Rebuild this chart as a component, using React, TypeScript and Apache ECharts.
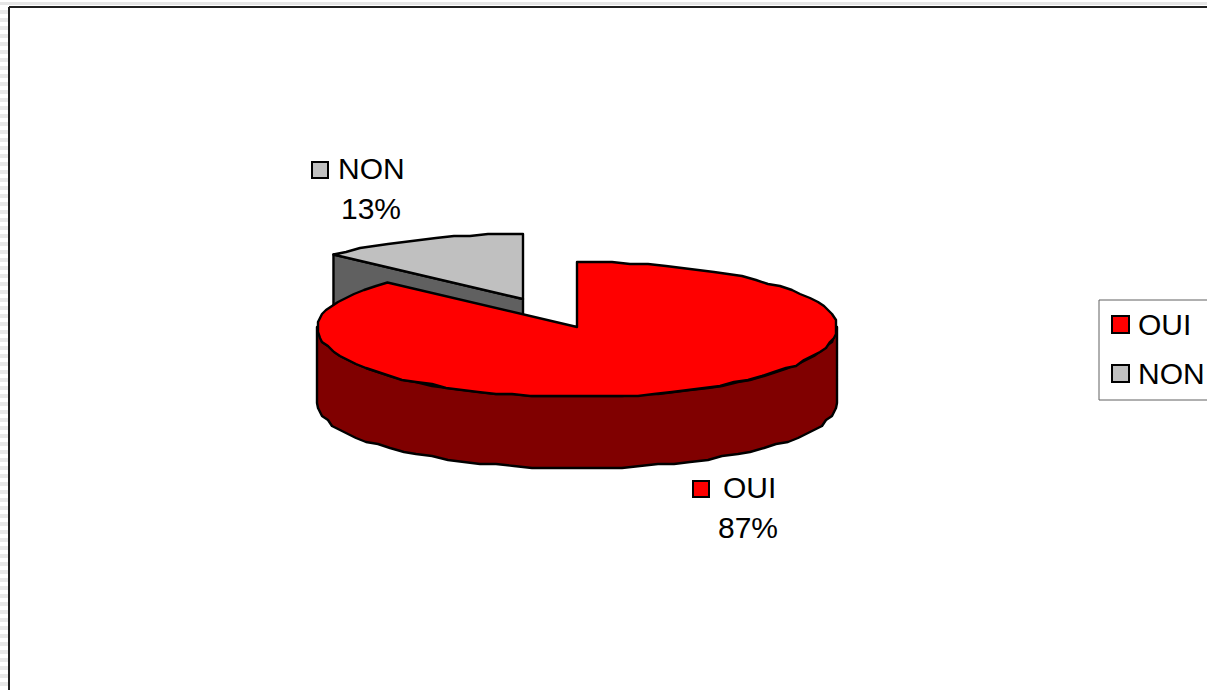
import React, { useEffect, useRef } from "react";
import * as echarts from "echarts";

const categories = ["OUI", "NON"];
const shares = [87, 13];
const topColors = ["#ff0000", "#c0c0c0"];
const sideColors = ["#800000", "#606060"];

const W = 1207, H = 690;
const CX = 577, CY = 327, RX = 260, RY_BACK = 65, RY_FRONT = 70, DEPTH = 76;
const EXPLODE = [[0, 0], [-54, -28]];
const SNAP = 2;

function rim(deg: number, ox: number, oy: number, drop: number): number[] {
  const a = (deg * Math.PI) / 180;
  const c = Math.cos(a);
  const ry = drop > 0 ? RY_BACK : c >= 0 ? RY_BACK : RY_FRONT;
  return [CX + ox + RX * Math.sin(a), CY + oy + drop - ry * c];
}
function arc(from: number, to: number, ox: number, oy: number, drop: number): number[][] {
  const n = Math.max(2, Math.ceil(Math.abs(to - from) / 4));
  const pts: number[][] = [];
  for (let i = 0; i <= n; i++) {
    const p = rim(from + ((to - from) * i) / n, ox, oy, drop);
    // The reference outline is visibly stepped; keep inner points on a coarse pixel grid.
    pts.push(i === 0 || i === n ? p : [Math.round(p[0] / SNAP) * SNAP, Math.round(p[1] / SNAP) * SNAP]);
  }
  return pts;
}

function sliceItem(index: number) {
  const total = shares.reduce((s, v) => s + v, 0);
  const before = shares.slice(0, index).reduce((s, v) => s + v, 0);
  const start = (before / total) * 360;
  const end = ((before + shares[index]) / total) * 360;
  const [ox, oy] = EXPLODE[index];
  const apex = [CX + ox, CY + oy];
  const stroke = { stroke: "#000", lineWidth: 2.4, lineJoin: "round" };
  const children: any[] = [];
  if (index === 1) {
    const p = rim(start, ox, oy, 0);
    children.push({
      type: "polygon",
      shape: { points: [apex, p, [p[0], p[1] + DEPTH], [apex[0], apex[1] + DEPTH]] },
      style: { fill: sideColors[index], ...stroke },
    });
  }
  const wallFrom = Math.max(start, 90);
  const wallTo = Math.min(end, 270);
  if (wallFrom < wallTo) {
    const top = arc(wallFrom, wallTo, ox, oy, 0);
    const bottom = arc(wallTo, wallFrom, ox, oy, DEPTH);
    children.push({
      type: "polygon",
      shape: { points: [...top, ...bottom] },
      style: { fill: sideColors[index], ...stroke },
    });
  }
  children.push({
    type: "polygon",
    shape: { points: [apex, ...arc(start, end, ox, oy, 0)] },
    style: { fill: topColors[index], ...stroke },
  });
  return { type: "group", children };
}

function keyLabel(i: number, keyX: number, keyY: number, textX: number, pctX: number, pctY: number) {
  const total = shares.reduce((s, v) => s + v, 0);
  const font = { fontFamily: "Liberation Sans", fontSize: 30, fill: "#000" };
  return [
    { type: "rect", shape: { x: keyX, y: keyY, width: 16, height: 16 }, style: { fill: topColors[i], stroke: "#000", lineWidth: 2 } },
    { type: "text", x: textX, y: keyY + 6, style: { ...font, text: categories[i], verticalAlign: "middle" } },
    { type: "text", x: pctX, y: pctY, style: { ...font, text: `${Math.round((shares[i] / total) * 100)}%`, verticalAlign: "middle" } },
  ];
}

const stripes = Array.from({ length: 86 }, (_, i) => ({
  type: "rect",
  shape: { x: 0, y: 10 + i * 8, width: 8, height: 4 },
  style: { fill: "#e8e8e8" },
}));

export default function App() {
  const ref = useRef<HTMLDivElement>(null);
  useEffect(() => {
    const chart = echarts.init(ref.current!, null, { renderer: "svg" });
    chart.setOption({
      animation: false,
      backgroundColor: "#fff",
      legend: {
        orient: "vertical",
        left: 1099,
        top: 300,
        padding: [8, 30, 10, 12],
        itemGap: 16,
        itemWidth: 17,
        itemHeight: 17,
        icon: "rect",
        borderColor: "#606060",
        borderWidth: 1,
        itemStyle: { borderColor: "#000", borderWidth: 2 },
        textStyle: { fontFamily: "Liberation Sans", fontSize: 30, lineHeight: 33, color: "#000", padding: [0, 0, 0, 4] },
        data: categories,
      },
      graphic: {
        elements: [
          { type: "rect", shape: { x: 0, y: 2, width: W, height: 3 }, style: { fill: "#e6e6e6" }, z: 0 },
          ...stripes,
          { type: "line", shape: { x1: 9, y1: 7, x2: W, y2: 7 }, style: { stroke: "#202020", lineWidth: 2 } },
          { type: "line", shape: { x1: 9, y1: 7, x2: 9, y2: H }, style: { stroke: "#202020", lineWidth: 2 } },
          ...keyLabel(1, 312, 162, 338, 341, 208),
          ...keyLabel(0, 693, 481, 723, 718, 527),
        ],
      },
      series: categories.map((name, i) => ({
        type: "custom",
        name,
        coordinateSystem: "none",
        itemStyle: { color: topColors[i] },
        z: i === 1 ? 1 : 2,
        data: [shares[i]],
        renderItem: () => sliceItem(i),
      })),
    });
    return () => chart.dispose();
  }, []);
  return <div ref={ref} style={{ position: "fixed", left: 0, top: 0, width: W, height: H }} />;
}
